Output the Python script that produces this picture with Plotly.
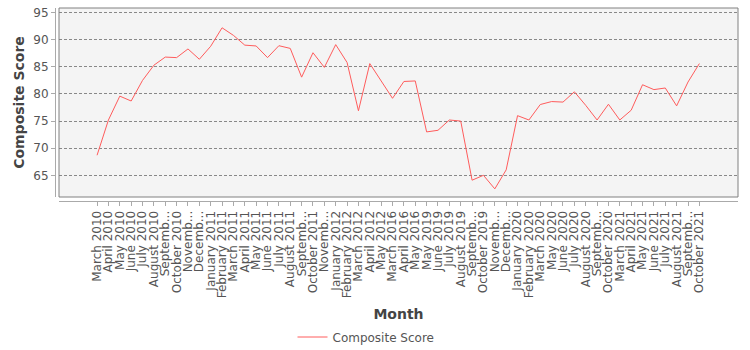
import plotly.graph_objects as go

months = [
    "March 2010", "April 2010", "May 2010", "June 2010", "July 2010", "August 2010",
    "September 2010", "October 2010", "November 2010", "December 2010",
    "January 2011", "February 2011", "March 2011", "April 2011", "May 2011", "June 2011",
    "July 2011", "August 2011", "September 2011", "October 2011", "November 2011",
    "January 2012", "February 2012", "March 2012", "April 2012", "May 2012",
    "March 2016", "April 2016", "May 2016",
    "May 2019", "June 2019", "July 2019", "August 2019", "September 2019", "October 2019",
    "November 2019", "December 2019",
    "January 2020", "February 2020", "March 2020", "May 2020", "June 2020", "July 2020",
    "August 2020", "September 2020", "October 2020",
    "March 2021", "April 2021", "May 2021", "June 2021", "July 2021", "August 2021",
    "September 2021", "October 2021",
]

tick_labels = [("Novemb..." if m.startswith("November") else
                "Decemb..." if m.startswith("December") else
                "Septemb..." if m.startswith("September") else m) for m in months]

composite_score = [
    68.7, 75.2, 79.6, 78.7, 82.5, 85.3, 86.8, 86.7, 88.3, 86.4,
    88.8, 92.2, 90.8, 89.0, 88.85, 86.7, 88.9, 88.4, 83.1, 87.6, 84.9,
    89.1, 85.8, 76.9, 85.6, 82.4,
    79.2, 82.3, 82.4,
    73.0, 73.3, 75.2, 75.0, 64.1, 65.0, 62.5, 66.0,
    76.0, 75.2, 78.05, 78.6, 78.5, 80.4, 77.9, 75.2, 78.1,
    75.2, 77.0, 81.7, 80.8, 81.1, 77.8, 82.2, 85.6,
]

W, H = 750, 350
ml, mr, mt, mb = 55, 12, 8, 149
pw = W - ml - mr
ph = H - mt - mb
gap = 4

fig = go.Figure()
fig.add_trace(go.Scatter(
    x=list(range(len(months))), y=composite_score, mode="lines",
    name="Composite Score",
    line=dict(color="#ff5c5c", width=1),
))

font_family = "DejaVu Sans"
fig.update_layout(
    width=W, height=H,
    margin=dict(l=ml, r=mr, t=mt, b=mb, pad=0, autoexpand=False),
    paper_bgcolor="white",
    plot_bgcolor="#f4f4f4",
    font=dict(family=font_family, size=12, color="#555555"),
    showlegend=True,
    legend=dict(orientation="h", xref="container", x=0.5 - 9 / W, xanchor="center",
                yref="container", y=(H - 337) / H, yanchor="middle",
                itemwidth=30,
                font=dict(size=12, color="#555555"),
                bgcolor="rgba(0,0,0,0)"),
    xaxis=dict(
        domain=[gap / pw, 1],
        anchor="free", position=0,
        automargin=False,
        tickmode="array", tickvals=list(range(len(months))), ticktext=tick_labels,
        tickangle=-90,
        range=[-3.35, len(months) - 1 + 3.4],
        showgrid=False, zeroline=False,
        showline=True, linecolor="#aaaaaa", linewidth=1,
        ticks="outside", ticklen=4, tickcolor="#aaaaaa",
        tickfont=dict(size=12, color="#555555"),
        title=dict(text="<b>Month</b>", font=dict(size=14, color="#444444"), standoff=14),
    ),
    yaxis=dict(
        domain=[gap / ph, 1],
        anchor="free", position=0,
        automargin=False,
        range=[61.0, 95.85],
        tickvals=[65, 70, 75, 80, 85, 90, 95],
        showgrid=True, gridcolor="#888888", griddash="3px,2px", gridwidth=1,
        zeroline=False,
        showline=True, linecolor="#aaaaaa", linewidth=1,
        ticks="outside", ticklen=4, tickcolor="#aaaaaa",
        tickfont=dict(size=12, color="#555555"),
        title=dict(text="<b>Composite Score</b>", font=dict(size=14, color="#444444"), standoff=4),
    ),
    shapes=[dict(type="rect", xref="x domain", yref="y domain", x0=0, x1=1, y0=0, y1=1,
                 line=dict(color="#808080", width=1), fillcolor="rgba(0,0,0,0)", layer="above")],
)

fig.write_html("out.html", config={"displayModeBar": False},
               post_script="document.body.style.margin='0';")
